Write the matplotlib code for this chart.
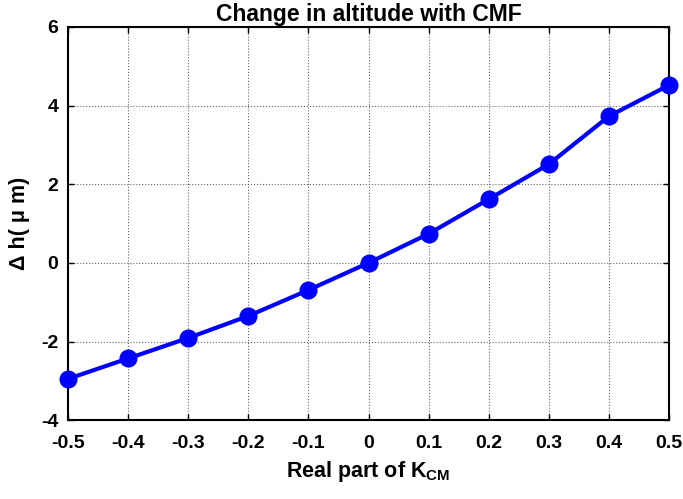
import matplotlib
matplotlib.use('Agg')
import matplotlib.pyplot as plt

plt.rcParams['font.family'] = ['Liberation Sans', 'DejaVu Sans']
plt.rcParams['font.weight'] = 'bold'
plt.rcParams['axes.unicode_minus'] = False
plt.rcParams['mathtext.fontset'] = 'custom'
plt.rcParams['mathtext.rm'] = 'Liberation Sans:bold'
plt.rcParams['mathtext.bf'] = 'Liberation Sans:bold'

# dati
k_cm = [-0.5, -0.4, -0.3, -0.2, -0.1, 0.0, 0.1, 0.2, 0.3, 0.4, 0.5]
delta_h = [-2.95, -2.43, -1.91, -1.35, -0.69, 0.0, 0.74, 1.62, 2.51, 3.73, 4.52]
x_ticks = [-0.5, -0.4, -0.3, -0.2, -0.1, 0, 0.1, 0.2, 0.3, 0.4, 0.5]
x_labels = ['-0.5', '-0.4', '-0.3', '-0.2', '-0.1', '0', '0.1', '0.2', '0.3', '0.4', '0.5']
y_ticks = [-4, -2, 0, 2, 4, 6]

fig = plt.figure(figsize=(6.83, 4.99), dpi=100)
ax = fig.add_axes([0.0996, 0.158, 0.88, 0.788])

ax.plot(k_cm, delta_h, color='#0000ff', linewidth=3, marker='o', clip_on=False,
        markersize=12, markerfacecolor='#0000ff', markeredgecolor='#0000ff', zorder=5)

ax.set_xlim(-0.5, 0.5)
ax.set_ylim(-4, 6)
ax.set_xticks(x_ticks)
ax.set_xticklabels(x_labels)
ax.set_yticks(y_ticks)

ax.grid(True, color='#666666', linestyle=':', linewidth=0.8)
ax.tick_params(direction='in', top=True, right=True, length=4, width=1,
               labelsize=14)
ax.tick_params(axis='x', pad=11)
ax.tick_params(axis='y', pad=7)
for lab in ax.get_xticklabels() + ax.get_yticklabels():
    lab.set_fontweight('bold')
for s in ax.spines.values():
    s.set_linewidth(1.5)

ax.set_title('Change in altitude with CMF', fontsize=16.5, fontweight='bold', pad=4)
ax.set_xlabel(r'Real part of K$_{\mathrm{CM}}$', fontsize=15.5, fontweight='bold', labelpad=5)
ax.set_ylabel('\u0394 h( \u03bc m)', fontsize=15.5, fontweight='bold', labelpad=8)

fig.savefig('out.png', dpi=100)
